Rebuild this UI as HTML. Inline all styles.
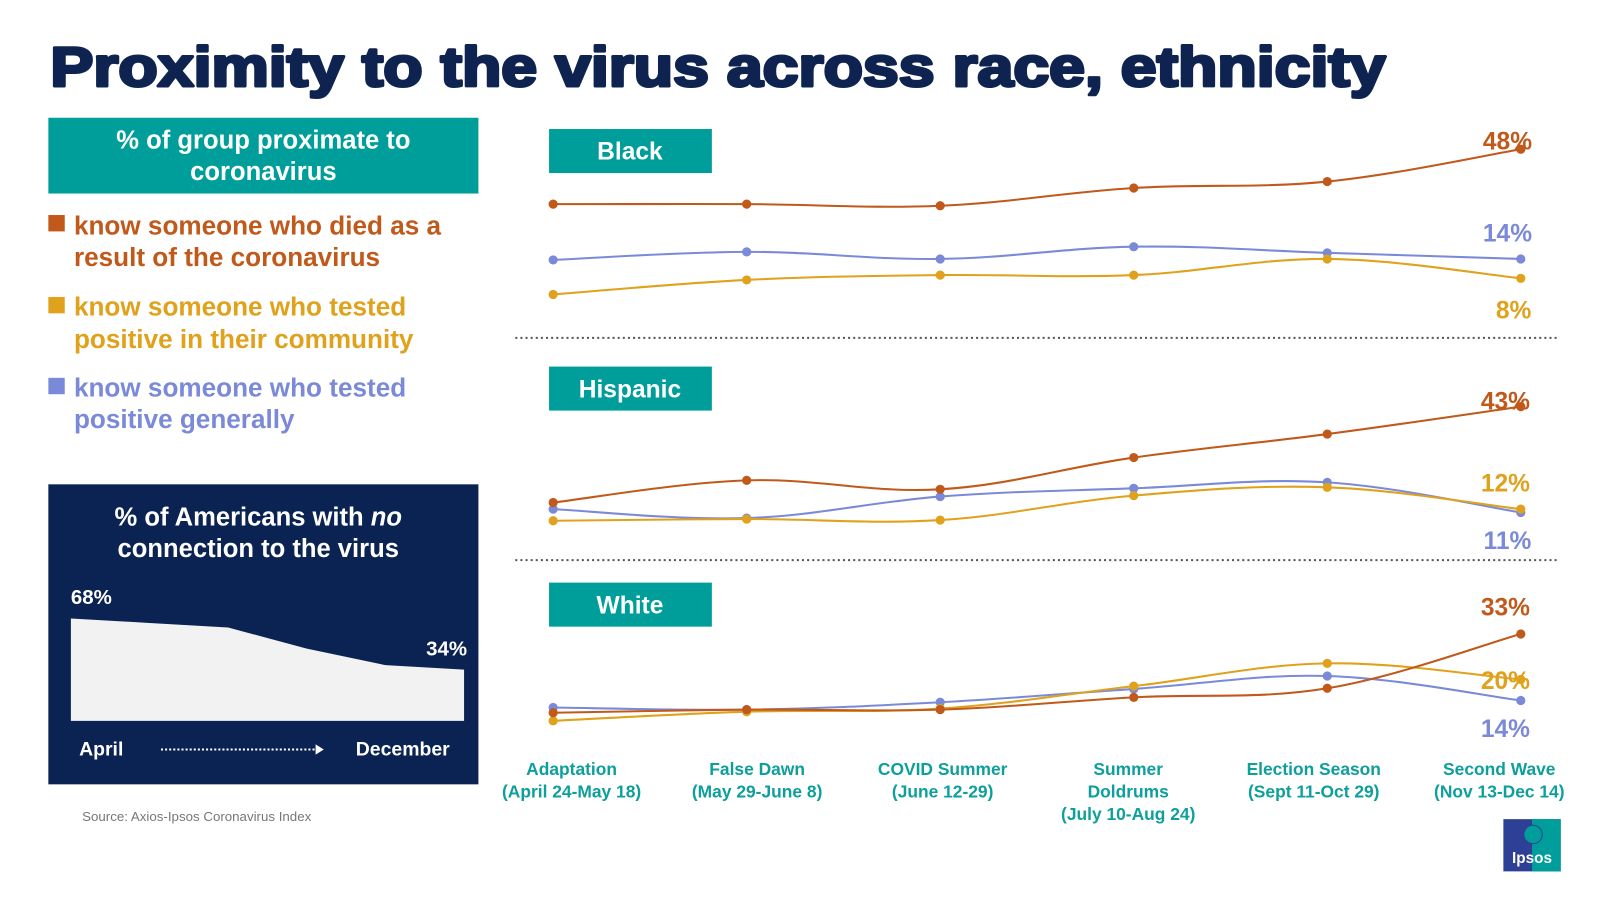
<!DOCTYPE html>
<html><head><meta charset="utf-8"><style>
body{margin:0;background:#fff;overflow:hidden}
svg{display:block;font-family:"Liberation Sans",Arial,sans-serif}
</style></head><body>
<svg id="chart" width="1606" height="898" viewBox="0 0 1568 877" xmlns="http://www.w3.org/2000/svg">
<text x="49" y="84" font-size="54" font-weight="bold" fill="#0f2350" stroke="#0f2350" stroke-width="3" stroke-linejoin="round" textLength="1304" lengthAdjust="spacingAndGlyphs">Proximity to the virus across race, ethnicity</text>
<rect x="47" y="115" width="420" height="74" fill="#009e9a"/>
<text x="257" y="145" font-size="25" font-weight="bold" fill="#fff" text-anchor="middle">% of group proximate to</text>
<text x="257" y="176" font-size="25" font-weight="bold" fill="#fff" text-anchor="middle">coronavirus</text>
<g font-size="25.5" font-weight="bold" fill="#c0591a">
<rect x="47" y="210" width="16" height="16"/><text x="72" y="229">know someone who died as a</text><text x="72" y="260">result of the coronavirus</text></g>
<g font-size="25.5" font-weight="bold" fill="#e0a21c">
<rect x="47" y="290" width="16" height="16"/><text x="72" y="308">know someone who tested</text><text x="72" y="340">positive in their community</text></g>
<g font-size="25.5" font-weight="bold" fill="#7b8ad8">
<rect x="47" y="369" width="16" height="16"/><text x="72" y="387">know someone who tested</text><text x="72" y="418">positive generally</text></g>
<rect x="47" y="473" width="420" height="293" fill="#0a2352"/>
<text x="252" y="513" font-size="25" font-weight="bold" fill="#fff" text-anchor="middle">% of Americans with <tspan font-style="italic">no</tspan></text>
<text x="252" y="544" font-size="25" font-weight="bold" fill="#fff" text-anchor="middle">connection to the virus</text>
<g id="area"></g>
<text x="69" y="590" font-size="20" font-weight="bold" fill="#fff">68%</text>
<text x="456" y="640" font-size="20" font-weight="bold" fill="#fff" text-anchor="end">34%</text>
<text x="77" y="738" font-size="19" font-weight="bold" fill="#fff">April</text>
<line x1="157" y1="732" x2="308" y2="732" stroke="#fff" stroke-width="2" stroke-dasharray="2,2"/>
<polygon points="308,727 316,732 308,737" fill="#fff"/>
<text x="439" y="738" font-size="19" font-weight="bold" fill="#fff" text-anchor="end">December</text>
<text x="80" y="802" font-size="13" fill="#777">Source: Axios-Ipsos Coronavirus Index</text>
<line x1="503" y1="330" x2="1520" y2="330" stroke="#555" stroke-width="2" stroke-dasharray="2,3"/>
<line x1="503" y1="547" x2="1520" y2="547" stroke="#555" stroke-width="2" stroke-dasharray="2,3"/>
<g id="panels"></g>
<g id="xlabels"></g>
<g>
<rect x="1468" y="800" width="56" height="51" fill="#2e3f96"/>
<path d="M1496 800 H1524 V851 H1496 Z" fill="#009e9a"/>
<circle cx="1497" cy="815" r="9" fill="#009e9a" stroke="#2e3f96" stroke-width="1"/>
<text x="1496" y="843" font-size="15" font-weight="bold" fill="#fff" text-anchor="middle">Ipsos</text></g>
</svg>
<script>
const categories=["Adaptation|(April 24-May 18)","False Dawn|(May 29-June 8)","COVID Summer|(June 12-29)","Summer|Doldrums|(July 10-Aug 24)","Election Season|(Sept 11-Oct 29)","Second Wave|(Nov 13-Dec 14)"];
const panelNames=["Black","Hispanic","White"];
const blackDied=[31,31,30.5,36,38,48];
const blackCommunity=[3,7.5,9,9,14,8];
const blackGeneral=[13.7,16.2,14,17.8,15.9,14];
const hispDied=[14,20.7,18,27.6,34.7,43];
const hispCommunity=[8.5,9,8.7,16.1,18.6,12];
const hispGeneral=[12,9.3,15.8,18.3,20.1,11];
const whiteDied=[10.5,11.4,11.4,14.9,17.5,33];
const whiteCommunity=[8.2,10.8,11.7,18.1,24.6,20];
const whiteGeneral=[12,11.4,13.5,17.3,21,14];
const noConnection=[68,65,62,48,37,34];
const NS="http://www.w3.org/2000/svg";
const C={died:"#c0591a",community:"#e0a21c",general:"#7b8ad8"};
function mk(t,a,p){const e=document.createElementNS(NS,t);for(const k in a)e.setAttribute(k,a[k]);p.appendChild(e);return e;}
const xScale=i=>540+i*189;
function smooth(pts){let d="M"+pts[0][0]+","+pts[0][1];for(let i=0;i<pts.length-1;i++){const p0=pts[i-1]||pts[i],p1=pts[i],p2=pts[i+1],p3=pts[i+2]||p2;const t=0.18;d+=" C"+(p1[0]+(p2[0]-p0[0])*t)+","+(p1[1]+(p2[1]-p0[1])*t)+" "+(p2[0]-(p3[0]-p1[0])*t)+","+(p2[1]-(p3[1]-p1[1])*t)+" "+p2[0]+","+p2[1];}return d;}
const panels=[
 {y0:297,k:3.15,tag:126,series:[["general",blackGeneral],["community",blackCommunity],["died",blackDied]],lab:{died:[1472,146],general:[1472,236],community:[1478,311]}},
 {y0:536,k:3.23,tag:358,series:[["general",hispGeneral],["community",hispCommunity],["died",hispDied]],lab:{died:[1470,400],community:[1470,480],general:[1472,536]}},
 {y0:732,k:3.42,tag:569,series:[["general",whiteGeneral],["community",whiteCommunity],["died",whiteDied]],lab:{died:[1470,601],community:[1470,673],general:[1470,720]}}
];
const pg=document.getElementById("panels");
panels.forEach((p,pi)=>{
 const g=mk("g",{},pg);
 
 
 const r=mk("rect",{x:536,y:p.tag,width:159,height:43,fill:"#009e9a"},g);
 
 
 const tt=mk("text",{x:615,y:p.tag+30,"font-size":24,"font-weight":"bold",fill:"#fff","text-anchor":"middle"},g);tt.textContent=panelNames[pi];
 
 
 const yS=v=>p.y0-v*p.k;
 p.series.forEach(([key,vals])=>{
  const pts=vals.map((v,i)=>[xScale(i),yS(v)]);
  const path=mk("path",{d:smooth(pts),fill:"none",stroke:C[key],"stroke-width":2},g);
  
  
  pts.forEach(q=>{const c=mk("circle",{cx:q[0],cy:q[1],r:4.5,fill:C[key]},g);
   
   });
  const l=p.lab[key];
  const t=mk("text",{x:l[0],y:l[1],"font-size":24,"font-weight":"bold",fill:C[key],"text-anchor":"middle"},g);
  t.textContent=Math.round(vals[vals.length-1])+"%";
  
  
 });
});
const xg=document.getElementById("xlabels");
categories.forEach((c,i)=>{
 c.split("|").forEach((ln,j)=>{
  const t=mk("text",{x:558+i*181.2,y:757+j*22,"font-size":17,"font-weight":"bold",fill:"#0d9f9b","text-anchor":"middle"},xg);
  t.textContent=ln;
  
  
 });
});
const ag=document.getElementById("area");
const ax=i=>69+i*(384/(noConnection.length-1)), ay=v=>704-v*(100/68);
const pts=noConnection.map((v,i)=>ax(i)+","+ay(v)).join(" ");
const poly=mk("polygon",{points:"69,704 "+pts+" 453,704",fill:"#f2f2f2"},ag);


</script>
</body></html>
